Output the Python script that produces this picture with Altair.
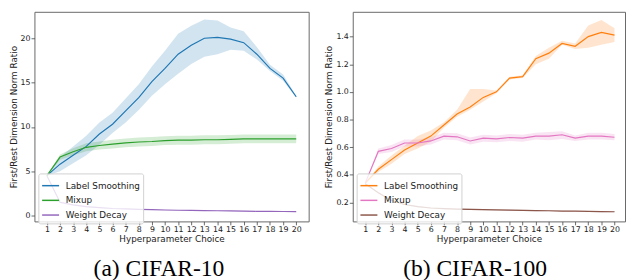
import altair as alt
import pandas as pd

xs = list(range(1, 21))
series = ["Label Smoothing", "Mixup", "Weight Decay"]

# ---------- CIFAR-10 ----------
c10_ls_mean = [4.5, 5.8, 6.8, 7.8, 9.2, 10.3, 11.8, 13.3, 15.1, 16.6, 18.2, 19.2, 20.0, 20.1, 19.9, 19.5, 18.2, 16.6, 15.5, 13.4]
c10_ls_lo = [4.5, 5.0, 5.9, 6.8, 8.0, 9.3, 10.5, 11.9, 13.5, 14.8, 16.0, 17.1, 17.9, 18.2, 18.7, 18.6, 17.6, 16.3, 15.2, 13.3]
c10_ls_hi = [4.5, 6.6, 7.8, 9.0, 10.5, 11.6, 13.2, 14.8, 16.8, 18.6, 20.5, 21.4, 22.1, 22.0, 21.2, 20.8, 19.0, 17.0, 15.9, 13.5]

c10_mx_mean = [4.5, 6.6, 7.2, 7.7, 7.9, 8.05, 8.2, 8.3, 8.35, 8.45, 8.5, 8.5, 8.55, 8.55, 8.6, 8.65, 8.65, 8.65, 8.65, 8.65]
c10_mx_lo = [4.5, 6.3, 6.8, 7.25, 7.45, 7.55, 7.7, 7.8, 7.85, 7.95, 8.0, 8.0, 8.05, 8.05, 8.1, 8.15, 8.15, 8.15, 8.15, 8.15]
c10_mx_hi = [4.5, 6.9, 7.6, 8.15, 8.35, 8.55, 8.7, 8.8, 8.85, 8.95, 9.0, 9.0, 9.05, 9.05, 9.1, 9.15, 9.15, 9.15, 9.15, 9.15]

c10_wd_mean = [4.5, 1.5, 1.2, 1.0, 0.9, 0.8, 0.75, 0.7, 0.67, 0.63, 0.6, 0.58, 0.56, 0.54, 0.52, 0.5, 0.48, 0.47, 0.46, 0.45]
c10_wd_lo = [4.5, 1.4, 1.12, 0.94, 0.85, 0.76, 0.71, 0.66, 0.63, 0.6, 0.57, 0.55, 0.53, 0.51, 0.49, 0.47, 0.45, 0.44, 0.43, 0.42]
c10_wd_hi = [4.5, 1.6, 1.28, 1.06, 0.95, 0.84, 0.79, 0.74, 0.71, 0.66, 0.63, 0.61, 0.59, 0.57, 0.55, 0.53, 0.51, 0.5, 0.49, 0.48]

# ---------- CIFAR-100 ----------
c100_ls_mean = [0.34, 0.44, 0.51, 0.58, 0.63, 0.68, 0.76, 0.84, 0.89, 0.96, 1.00, 1.10, 1.11, 1.24, 1.28, 1.35, 1.33, 1.40, 1.43, 1.41]
c100_ls_lo = [0.34, 0.42, 0.48, 0.55, 0.59, 0.64, 0.74, 0.82, 0.87, 0.93, 0.99, 1.09, 1.10, 1.20, 1.24, 1.34, 1.31, 1.32, 1.34, 1.36]
c100_ls_hi = [0.34, 0.46, 0.54, 0.61, 0.68, 0.72, 0.78, 0.87, 1.02, 1.02, 1.01, 1.11, 1.12, 1.26, 1.32, 1.37, 1.35, 1.48, 1.52, 1.46]

c100_mx_mean = [0.34, 0.57, 0.59, 0.63, 0.63, 0.645, 0.68, 0.675, 0.645, 0.665, 0.66, 0.67, 0.665, 0.68, 0.68, 0.69, 0.665, 0.68, 0.68, 0.672]
c100_mx_lo = [0.34, 0.55, 0.565, 0.605, 0.605, 0.62, 0.655, 0.65, 0.62, 0.64, 0.635, 0.645, 0.64, 0.655, 0.65, 0.66, 0.645, 0.655, 0.655, 0.65]
c100_mx_hi = [0.34, 0.59, 0.615, 0.655, 0.655, 0.67, 0.705, 0.7, 0.67, 0.69, 0.685, 0.695, 0.69, 0.705, 0.71, 0.715, 0.685, 0.705, 0.705, 0.695]

c100_wd_mean = [0.335, 0.27, 0.215, 0.185, 0.17, 0.16, 0.155, 0.152, 0.15, 0.148, 0.146, 0.145, 0.143, 0.141, 0.14, 0.138, 0.137, 0.135, 0.134, 0.133]
c100_wd_lo = [0.335, 0.265, 0.21, 0.181, 0.166, 0.156, 0.151, 0.148, 0.146, 0.144, 0.142, 0.141, 0.139, 0.137, 0.136, 0.134, 0.133, 0.131, 0.13, 0.129]
c100_wd_hi = [0.335, 0.275, 0.22, 0.189, 0.174, 0.164, 0.159, 0.156, 0.154, 0.152, 0.15, 0.149, 0.147, 0.145, 0.144, 0.142, 0.141, 0.139, 0.138, 0.137]

c10_colors = ["#1f77b4", "#2ca02c", "#9467bd"]
c100_colors = ["#ff7f0e", "#e377c2", "#8c564b"]
c10_yticks = [0, 5, 10, 15, 20]
c100_yticks = [0.2, 0.4, 0.6, 0.8, 1.0, 1.2, 1.4]


def frame(means, los, his):
    rows = []
    for name, m, lo, hi in zip(series, means, los, his):
        for x, a, b, c in zip(xs, m, lo, hi):
            rows.append({"x": x, "series": name, "mean": a, "lo": b, "hi": c})
    return pd.DataFrame(rows)


df10 = frame([c10_ls_mean, c10_mx_mean, c10_wd_mean],
             [c10_ls_lo, c10_mx_lo, c10_wd_lo],
             [c10_ls_hi, c10_mx_hi, c10_wd_hi])
df100 = frame([c100_ls_mean, c100_mx_mean, c100_wd_mean],
              [c100_ls_lo, c100_mx_lo, c100_wd_lo],
              [c100_ls_hi, c100_mx_hi, c100_wd_hi])

FONT = "DejaVu Sans"


def panel(df, colors, ydomain, yticks, yfmt, xdomain, width, subtitle):
    xsc = alt.Scale(domain=xdomain, nice=False, zero=False)
    ysc = alt.Scale(domain=ydomain, nice=False, zero=False)
    cs = alt.Scale(domain=series, range=colors)
    xax = alt.Axis(values=xs, title="Hyperparameter Choice", format="d",
                   titlePadding=1, labelOverlap=False, labelFlush=False,
                   labelBound=False)
    yax = alt.Axis(values=yticks, title="First/Rest Dimension Norm Ratio",
                   format=yfmt, titlePadding=2, labelOverlap=False,
                   labelFlush=False, labelBound=False)
    base = alt.Chart(df)
    band = base.mark_area(opacity=0.2, clip=True).encode(
        x=alt.X("x:Q", scale=xsc, axis=xax),
        y=alt.Y("lo:Q", scale=ysc, axis=yax),
        y2="hi:Q",
        fill=alt.Fill("series:N", scale=cs, legend=None),
    )
    line = base.mark_line(strokeWidth=1.2, clip=True).encode(
        x=alt.X("x:Q", scale=xsc, axis=xax),
        y=alt.Y("mean:Q", scale=ysc, axis=yax),
        color=alt.Color("series:N", scale=cs,
                        legend=alt.Legend(title=None, orient="none",
                                          legendX=4, legendY=165)),
    )
    return alt.layer(band, line).resolve_scale(color="independent").properties(
        width=width, height=214,
        title=alt.TitleParams(subtitle, orient="bottom", anchor="middle",
                              frame="bounds", font="Liberation Serif",
                              fontSize=24, fontWeight="normal", color="black",
                              offset=14),
    )


left = panel(df10, c10_colors, [-0.66, 22.98], c10_yticks, "d",
             [0.05, 20.95], 280, "(a) CIFAR-10")
right = panel(df100, c100_colors, [0.063, 1.579], c100_yticks, ".1f",
              [0.05, 20.8], 278, "(b) CIFAR-100")

chart = alt.hconcat(left, right, spacing=15).resolve_scale(
    color="independent", fill="independent", x="independent", y="independent"
).properties(padding=0).configure_view(
    stroke="#666", strokeWidth=1
).configure_axis(
    grid=False, domain=False, tickColor="#444", tickSize=3.5, tickWidth=0.8,
    labelFont=FONT, labelFontSize=8, labelColor="#222", labelPadding=1,
    labelOverlap=False,
    titleFont=FONT, titleFontSize=9, titleFontWeight="normal", titleColor="#222",
).configure_legend(
    labelFont=FONT, labelFontSize=9, labelColor="#222",
    symbolType="stroke", symbolStrokeWidth=1.5, symbolSize=300,
    fillColor="rgba(255,255,255,0.8)", strokeColor="#d0d0d0", cornerRadius=2,
    padding=3, rowPadding=-1, labelOffset=6,
)

chart.save("out.html", embed_options={"renderer": "svg", "actions": False})
